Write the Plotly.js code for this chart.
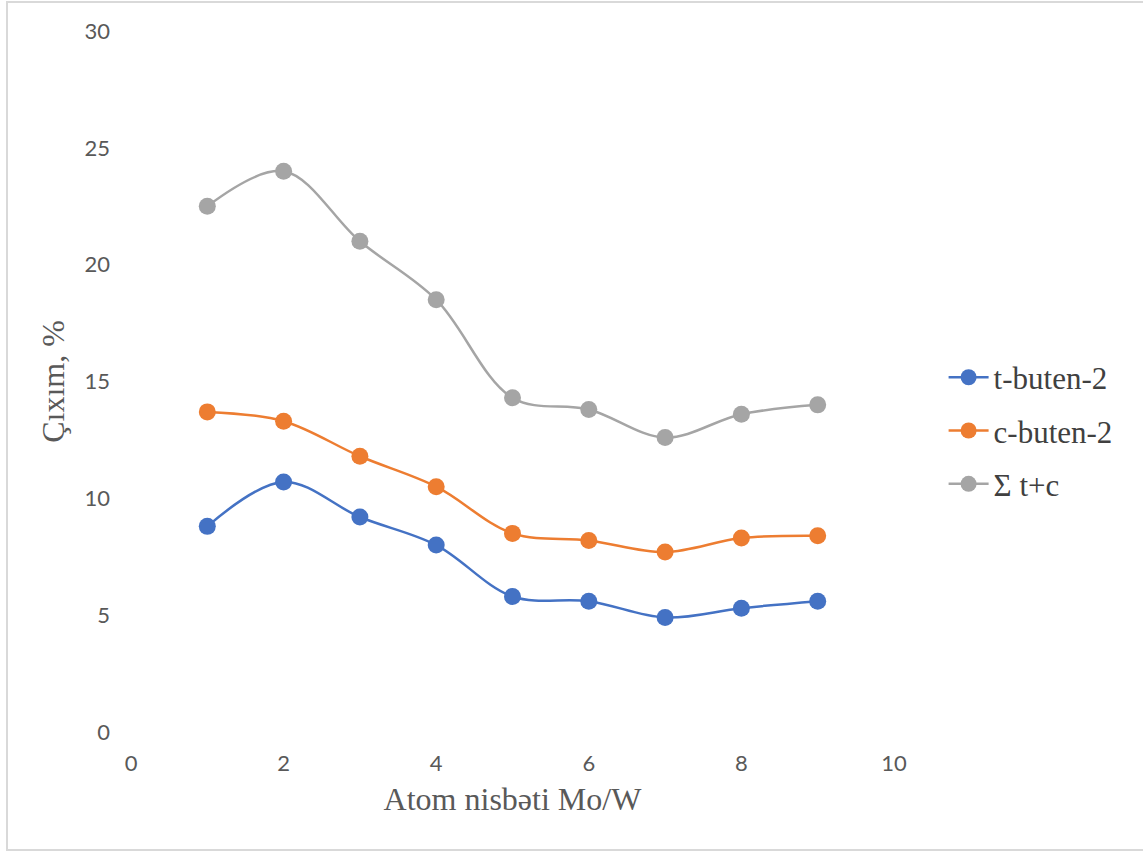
<!DOCTYPE html>
<html>
<head>
<meta charset="utf-8">
<script src="https://cdn.plot.ly/plotly-3.0.1.min.js"></script>
<style>
  html, body { margin: 0; padding: 0; background: #ffffff; }
  #frame { position: absolute; left: 6px; top: 1px; width: 1150px; height: 850px; border: 2px solid #d9d9d9; box-sizing: border-box; }
  #chart { position: absolute; left: 0; top: 0; width: 1143px; height: 854px; }
</style>
</head>
<body>
<div id="frame"></div>
<div id="chart"></div>
<script>
const ratio = [1, 2, 3, 4, 5, 6, 7, 8, 9];
const tButen = [8.8, 10.7, 9.2, 8.0, 5.8, 5.6, 4.9, 5.3, 5.6];
const cButen = [13.7, 13.3, 11.8, 10.5, 8.5, 8.2, 7.7, 8.3, 8.4];
const sumTC = [22.5, 24.0, 21.0, 18.5, 14.3, 13.8, 12.6, 13.6, 14.0];
const seriesNames = ["t-buten-2", "c-buten-2", "\u03A3 t+c"];
const seriesColors = ["#4472C4", "#ED7D31", "#A5A5A5"];
const xTitle = "Atom nisbəti Mo/W";
const yTitle = "Çıxım, %";

const seriesData = [tButen, cButen, sumTC];
const traces = seriesData.map((ys, i) => ({
  x: ratio,
  y: ys,
  name: seriesNames[i],
  legendgroup: "g" + i,
  type: "scatter",
  mode: "lines+markers",
  line: { color: seriesColors[i], width: 2.5, shape: "spline", smoothing: 1 },
  marker: { color: seriesColors[i], size: 17, symbol: "circle" }
}));

const tickFont = { family: "Lato, 'Open Sans', sans-serif", size: 22, color: "#595959" };
const serif = "'Liberation Serif', 'Times New Roman', serif";

const layout = {
  width: 1143,
  height: 854,
  paper_bgcolor: "rgba(0,0,0,0)",
  plot_bgcolor: "rgba(0,0,0,0)",
  margin: { l: 131, r: 249, t: 31, b: 122 },
  showlegend: true,
  legend: {
    x: 1.065, xanchor: "left",
    y: 0.43, yanchor: "middle",
    font: { family: serif, size: 31, color: "#404040" },
    tracegroupgap: 10,
    itemwidth: 40,
    bgcolor: "rgba(0,0,0,0)"
  },
  xaxis: {
    range: [0, 10],
    dtick: 2,
    tick0: 0,
    showgrid: false,
    zeroline: false,
    showline: false,
    ticks: "",
    ticklabelstandoff: 16,
    tickfont: tickFont,
    title: { text: xTitle, font: { family: serif, size: 32, color: "#595959" }, standoff: 12 }
  },
  yaxis: {
    range: [0, 30],
    dtick: 5,
    tick0: 0,
    showgrid: false,
    zeroline: false,
    showline: false,
    ticks: "",
    ticklabelstandoff: 20,
    tickfont: tickFont,
    title: { text: yTitle, font: { family: serif, size: 32, color: "#595959" }, standoff: 10 }
  }
};

Plotly.newPlot("chart", traces, layout, { displayModeBar: false, staticPlot: true });
</script>
</body>
</html>
